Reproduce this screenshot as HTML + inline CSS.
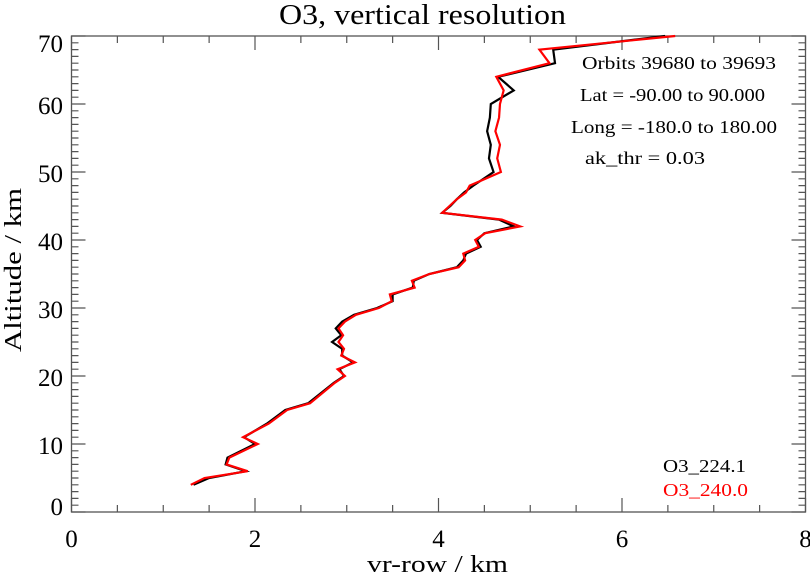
<!DOCTYPE html>
<html><head><meta charset="utf-8"><style>
body{margin:0;background:#fff}
text{font-family:"Liberation Serif",serif}
</style></head><body>
<svg id="c" width="810" height="576" xmlns="http://www.w3.org/2000/svg">
<rect width="810" height="576" fill="#fff"/>
<text x="279" y="24" font-size="28" textLength="287" lengthAdjust="spacingAndGlyphs">O3, vertical resolution</text>
<text x="367" y="572" font-size="24" textLength="141" lengthAdjust="spacingAndGlyphs">vr-row / km</text>
<text transform="translate(21,352) rotate(-90)" font-size="24" textLength="164" lengthAdjust="spacingAndGlyphs">Altitude / km</text>
<g font-size="18">
<text x="582" y="69" textLength="194" lengthAdjust="spacingAndGlyphs">Orbits 39680 to 39693</text>
<text x="580" y="101" textLength="185" lengthAdjust="spacingAndGlyphs">Lat = -90.00 to 90.000</text>
<text x="571" y="133" textLength="206" lengthAdjust="spacingAndGlyphs">Long = -180.0 to 180.00</text>
<text x="585" y="164" textLength="120" lengthAdjust="spacingAndGlyphs">ak_thr = 0.03</text>
</g>
<text x="663" y="472" font-size="18" textLength="83" lengthAdjust="spacingAndGlyphs" fill="#000">O3_224.1</text>
<text x="663" y="496" font-size="18" textLength="85" lengthAdjust="spacingAndGlyphs" fill="#ff0000">O3_240.0</text>
<g id="axes"></g>
<g id="series"></g>
</svg>
<script>
const altitudes=[4,5,6,7,8,10,11,13,15,16,19,20,21,22,23,24,25,26,27,28,29,30,31,32,33,34,35,36,37,38,39,40,41,42,43,44,45,46,47,48,50,52,54,56,58,60,62,64,66,68,70];
const redValues=[1.30,1.45,1.92,1.69,1.72,2.03,1.87,2.15,2.35,2.60,2.87,2.98,2.90,3.09,2.94,2.97,2.91,2.96,2.91,2.98,3.10,3.35,3.49,3.47,3.74,3.71,3.90,4.22,4.29,4.27,4.44,4.40,4.51,4.89,4.69,4.04,4.12,4.20,4.30,4.34,4.68,4.64,4.67,4.62,4.66,4.67,4.71,4.63,5.21,5.10,6.58];
const blackValues=[1.33,1.50,1.90,1.68,1.70,2.00,1.88,2.13,2.33,2.58,2.86,2.97,2.92,3.07,2.95,2.95,2.84,2.94,2.88,2.95,3.08,3.33,3.50,3.50,3.72,3.73,3.90,4.20,4.27,4.30,4.46,4.42,4.50,4.82,4.66,4.04,4.13,4.20,4.28,4.38,4.60,4.55,4.57,4.53,4.56,4.57,4.82,4.65,5.27,5.25,6.47];
const xTicks=[0,2,4,6,8];
const yTicks=[0,10,20,30,40,50,60,70];
const L=71.5,R=805.5,T=36,B=512;
const xs=v=>L+(v-0)/(8-0)*(R-L);
const ys=a=>B-(a-0)/(70-0)*(B-T);
const NS="http://www.w3.org/2000/svg";
const axes=document.getElementById('axes');
function mk(tag,attrs,parent){const e=document.createElementNS(NS,tag);for(const k in attrs)e.setAttribute(k,attrs[k]);parent.appendChild(e);return e;}
const box=mk('rect',{x:L,y:T,width:R-L,height:B-T,fill:'none',stroke:'#555','stroke-width':1.3},axes);


let d='';
for(let v=0;v<=8.001;v+=0.5){const x=xs(v);const maj=Math.abs(v-Math.round(v/2)*2)<1e-6;const len=maj?14:7;d+=`M${x},${B}V${B-len}M${x},${T}V${T+len}`;}
for(let a=0;a<=70;a+=1){const y=ys(a);const len=a%10===0?14:7;d+=`M${L},${y}H${L+len}M${R},${y}H${R-len}`;}
const tk=mk('path',{d:d,stroke:'#555','stroke-width':1.2,fill:'none'},axes);


xTicks.forEach(v=>{const t=mk('text',{x:xs(v),y:547,'font-size':25,'text-anchor':'middle'},axes);t.textContent=v;

});
yTicks.forEach((a,i)=>{let y=ys(a)+10;if(i===0)y=ys(a)+3;if(i===yTicks.length-1)y=ys(a)+16;
const t=mk('text',{x:63,y:y,'font-size':25,'text-anchor':'end'},axes);t.textContent=a;

});
const ser=document.getElementById('series');
function line(vals,color,name){const p=mk('polyline',{points:vals.map((v,i)=>xs(v)+','+ys(altitudes[i])).join(' '),fill:'none',stroke:color,'stroke-width':2.2,'stroke-linejoin':'miter'},ser);

}
line(blackValues,'#000','series-o3-224-line');
line(redValues,'#ff0000','series-o3-240-line');
</script>
</body></html>
